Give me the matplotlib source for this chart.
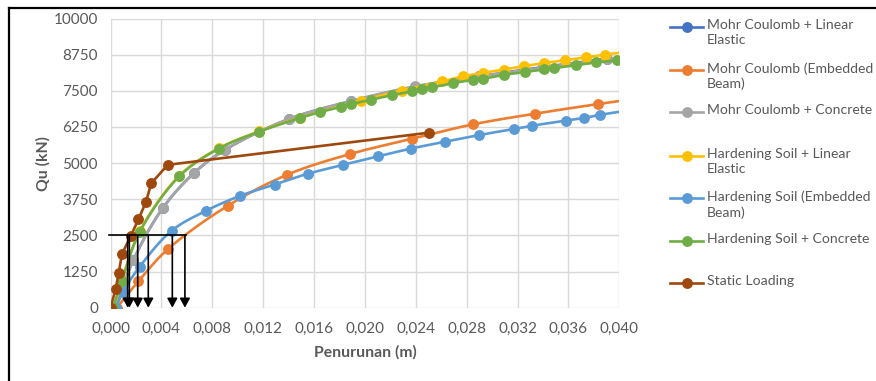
import matplotlib
matplotlib.use("Agg")
import matplotlib.pyplot as plt
from matplotlib.lines import Line2D
import numpy as np

plt.rcParams['font.family'] = ['Lato', 'DejaVu Sans']

# ---------------- data ----------------
mc_le_x = [0.0004, 0.0018, 0.0041, 0.0066, 0.0090, 0.0140, 0.0189, 0.0239, 0.0290, 0.0340, 0.0390]
mc_le_y = [0, 1650, 3440, 4670, 5460, 6520, 7140, 7640, 8000, 8320, 8610]

mc_eb_x = [0.0005, 0.0022, 0.0045, 0.0092, 0.0139, 0.0188, 0.0237, 0.0285, 0.0334, 0.0383, 0.0432]
mc_eb_y = [0, 920, 2020, 3520, 4600, 5310, 5840, 6340, 6710, 7040, 7340]

mc_c_x = [0.0004, 0.0018, 0.0041, 0.0066, 0.0090, 0.0140, 0.0189, 0.0239, 0.0290, 0.0340, 0.0390]
mc_c_y = [0, 1650, 3440, 4670, 5460, 6520, 7150, 7650, 8000, 8300, 8590]

hs_le_x = [0.0003, 0.0009, 0.0023, 0.0054, 0.0085, 0.0117, 0.0149, 0.0197, 0.0229, 0.0261,
           0.0277, 0.0293, 0.0309, 0.0325, 0.0341, 0.0357, 0.0374, 0.0389, 0.0406]
hs_le_y = [0, 950, 2640, 4560, 5510, 6100, 6570, 7160, 7510, 7830,
           8000, 8120, 8230, 8350, 8460, 8550, 8660, 8750, 8850]

hs_eb_x = [0.0004, 0.0010, 0.0023, 0.0048, 0.0075, 0.0102, 0.0129, 0.0155, 0.0183, 0.0210,
           0.0236, 0.0263, 0.0290, 0.0317, 0.0331, 0.0358, 0.0372, 0.0385, 0.0419]
hs_eb_y = [0, 560, 1420, 2660, 3350, 3870, 4260, 4630, 4940, 5230,
           5500, 5740, 5970, 6180, 6290, 6470, 6560, 6670, 6900]

hs_c_x = [0.0002, 0.0009, 0.0023, 0.0054, 0.0085, 0.0117, 0.0149, 0.0165, 0.0181, 0.0189,
          0.0205, 0.0221, 0.0237, 0.0245, 0.0253, 0.0269, 0.0285, 0.0293, 0.0309, 0.0326,
          0.0341, 0.0349, 0.0366, 0.0382, 0.0398]
hs_c_y = [0, 940, 2620, 4540, 5500, 6090, 6560, 6770, 6940, 7040,
          7190, 7350, 7480, 7560, 7620, 7760, 7880, 7920, 8050, 8150,
          8240, 8290, 8390, 8480, 8550]

sl_x = [0.0000, 0.0004, 0.00065, 0.0009, 0.0016, 0.0022, 0.0028, 0.0032, 0.0045, 0.0250]
sl_y = [0, 640, 1210, 1860, 2480, 3060, 3670, 4300, 4940, 6050]

labels = ["Mohr Coulomb + Linear\nElastic", "Mohr Coulomb (Embedded\nBeam)", "Mohr Coulomb + Concrete",
          "Hardening Soil + Linear\nElastic", "Hardening Soil (Embedded\nBeam)", "Hardening Soil + Concrete",
          "Static Loading"]
colors = ["#4472C4", "#ED7D31", "#A5A5A5", "#FFC000", "#5B9BD5", "#70AD47", "#9E480E"]
smoothed = [True, True, True, True, True, True, False]
series = [(mc_le_x, mc_le_y), (mc_eb_x, mc_eb_y), (mc_c_x, mc_c_y), (hs_le_x, hs_le_y),
          (hs_eb_x, hs_eb_y), (hs_c_x, hs_c_y), (sl_x, sl_y)]

arrow_level = 2500
arrow_x = [0.00135, 0.00148, 0.00214, 0.00297, 0.00486, 0.00585]

x_ticks = [0.000, 0.004, 0.008, 0.012, 0.016, 0.020, 0.024, 0.028, 0.032, 0.036, 0.040]
y_ticks = [0, 1250, 2500, 3750, 5000, 6250, 7500, 8750, 10000]

W, H = 876, 381
L, R, T, B = 110.5, 619.3, 18.5, 307.7
SX = (R - L) / 0.040
SY = (B - T) / 10000.0

# ---------------- helpers ----------------
def smooth(x, y, n=16, alpha=0.5):
    """centripetal Catmull-Rom in pixel space"""
    P = np.column_stack([np.asarray(x, float) * SX, np.asarray(y, float) * SY])
    if len(P) < 3:
        return np.asarray(x), np.asarray(y)
    P = np.vstack([2*P[0]-P[1], P, 2*P[-1]-P[-2]])
    out = []
    for i in range(1, len(P) - 2):
        p0, p1, p2, p3 = P[i-1], P[i], P[i+1], P[i+2]
        t0 = 0.0
        t1 = t0 + max(np.linalg.norm(p1-p0), 1e-6) ** alpha
        t2 = t1 + max(np.linalg.norm(p2-p1), 1e-6) ** alpha
        t3 = t2 + max(np.linalg.norm(p3-p2), 1e-6) ** alpha
        t = np.linspace(t1, t2, n, endpoint=False)[:, None]
        A1 = (t1-t)/(t1-t0)*p0 + (t-t0)/(t1-t0)*p1
        A2 = (t2-t)/(t2-t1)*p1 + (t-t1)/(t2-t1)*p2
        A3 = (t3-t)/(t3-t2)*p2 + (t-t2)/(t3-t2)*p3
        B1 = (t2-t)/(t2-t0)*A1 + (t-t0)/(t2-t0)*A2
        B2 = (t3-t)/(t3-t1)*A2 + (t-t1)/(t3-t1)*A3
        C = (t2-t)/(t2-t1)*B1 + (t-t1)/(t2-t1)*B2
        out.append(C)
    out.append(P[-2][None, :])
    C = np.vstack(out)
    return C[:, 0] / SX, C[:, 1] / SY

fig = plt.figure(figsize=(W/100, H/100), dpi=100)
ax = fig.add_axes([L/W, 1-B/H, (R-L)/W, (B-T)/H])

for (x, y), c, sm in zip(series, colors, smoothed):
    sx, sy = smooth(x, y) if sm else (x, y)
    ax.plot(sx, sy, color=c, lw=1.9, solid_capstyle='round', solid_joinstyle='round')
    ax.plot(x, y, 'o', color=c, ms=6.8, mec=c)

ax.set_xlim(0, 0.040)
ax.set_ylim(0, 10000)
ax.set_xticks(x_ticks)
ax.set_yticks(y_ticks)
ax.set_xticklabels([f"{v:.3f}".replace('.', ',') for v in x_ticks])
ax.set_yticklabels([str(v) for v in y_ticks])
ax.grid(True, color='#D9D9D9', lw=1.0)
ax.set_axisbelow(True)
for s in ax.spines.values():
    s.set_visible(False)
ax.tick_params(length=0, labelsize=11, labelcolor='#595959', pad=9)
ax.tick_params(axis='x', pad=10)
ax.set_ylabel("Qu (kN)", fontsize=11.3, fontweight='bold', color='#595959', labelpad=2)
ax.set_xlabel("Penurunan (m)", fontsize=11.3, fontweight='bold', color='#595959', labelpad=7)

# arrows
ax.plot([-0.00012, 0.00593], [arrow_level, arrow_level], color='black', lw=1.2, clip_on=False, zorder=5)
for xa in arrow_x:
    ax.annotate("", xy=(xa, 0), xytext=(xa, arrow_level),
                arrowprops=dict(arrowstyle='-|>,head_length=0.55,head_width=0.3', color='black',
                                lw=1.2, shrinkA=0, shrinkB=0), zorder=6)

# manual legend
slot_y = [26.7, 70.0, 112.3, 155.7, 198.3, 240.7, 283.3]
for lab, c, yy in zip(labels, colors, slot_y):
    fy = 1 - yy/H
    fig.add_artist(Line2D([670/W, 703/W], [fy, fy], color=c, lw=1.9))
    fig.add_artist(Line2D([686.7/W], [fy], marker='o', color=c, ms=6.8))
    fig.text(706.7/W, 1 - (yy - 8)/H, lab, fontsize=10.1, color='#595959', va='top', ha='left',
             linespacing=1.3)

# outer border (top and left)
fig.add_artist(Line2D([9/W, 1], [1-8/H, 1-8/H], color='black', lw=1.6))
fig.add_artist(Line2D([9/W, 9/W], [1-8/H, 0], color='black', lw=1.6))

fig.savefig("out.png", dpi=100)
